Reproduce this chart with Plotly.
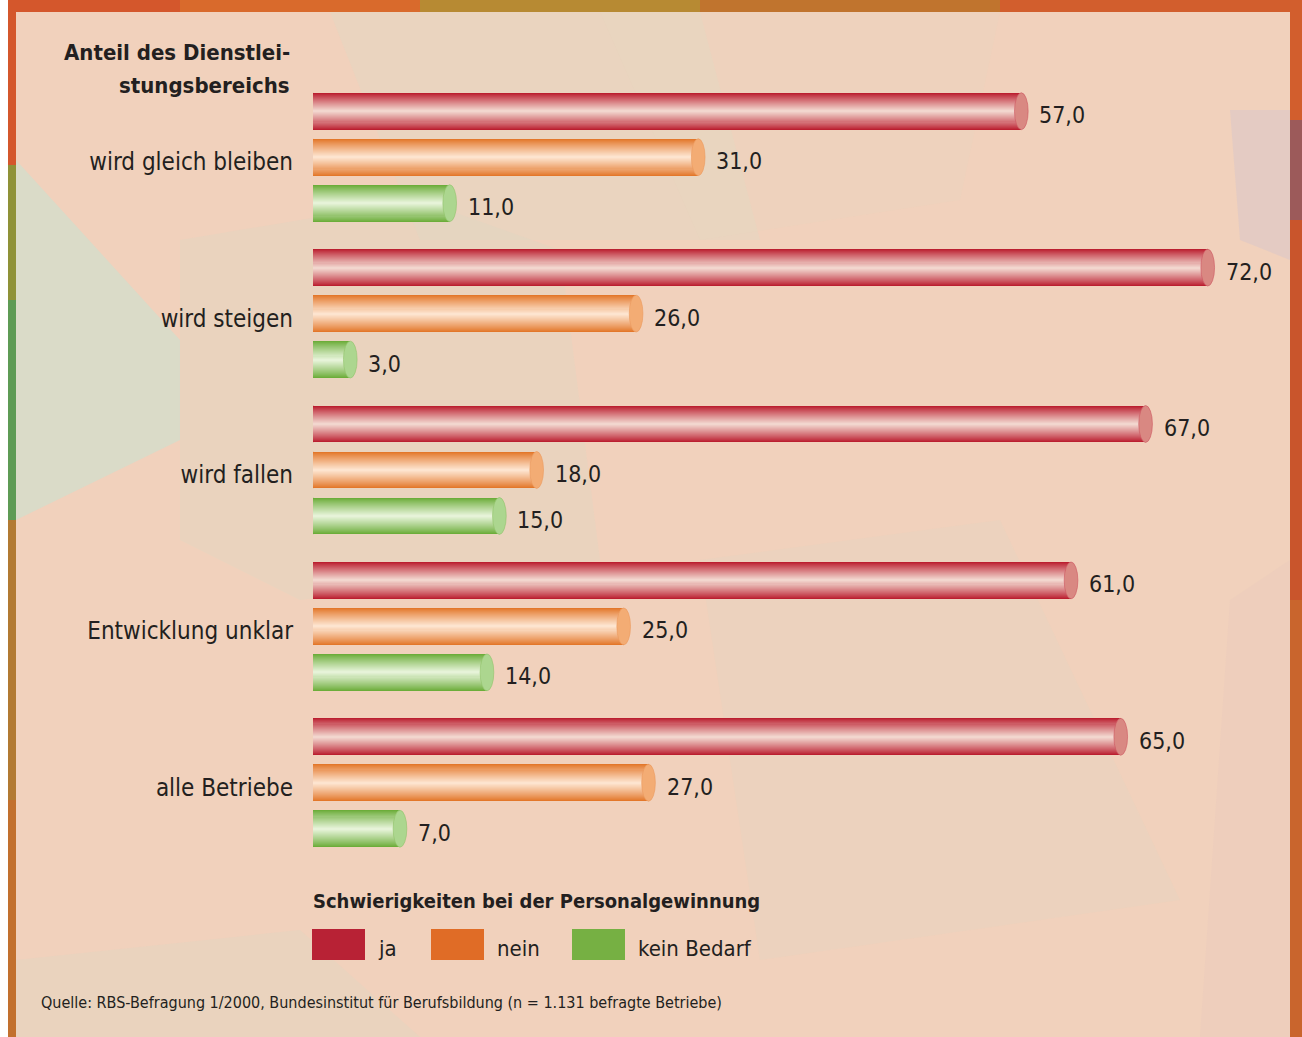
import plotly.graph_objects as go

# ---------------- data ----------------
categories = ["wird gleich bleiben", "wird steigen", "wird fallen", "Entwicklung unklar", "alle Betriebe"]
series_names = ["ja", "nein", "kein Bedarf"]
ja_values = [57.0, 72.0, 67.0, 61.0, 65.0]
nein_values = [31.0, 26.0, 18.0, 25.0, 27.0]
kein_bedarf_values = [11.0, 3.0, 15.0, 14.0, 7.0]
axis_title_lines = ["Anteil des Dienstlei-", "stungsbereichs"]
legend_title = "Schwierigkeiten bei der Personalgewinnung"
source_text = "Quelle: RBS-Befragung 1/2000, Bundesinstitut für Berufsbildung (n = 1.131 befragte Betriebe)"

# ---------------- style ----------------
FONT = "Liberation Sans Narrow, DejaVu Sans Condensed, Roboto Condensed, Arial Narrow, sans-serif"
TXT = "#231f20"
edge_cols = ["#bb1f30", "#e3772a", "#6cad3a"]
center_cols = ["#f2d6ce", "#fde4cf", "#e6f3d8"]
cap_cols = ["#d98882", "#f3ac74", "#acd68f"]
legend_cols = ["#b82235", "#e06c26", "#76b043"]

W_FIG, H_FIG = 1302, 1037
L, T, PW, PH = 313, 79, 932, 782
XMAX = 75.0


def px(x):
    return (x - L) / PW


def py(y):
    return 1 - (y - T) / PH


def hex2rgb(h):
    h = h.lstrip("#")
    return tuple(int(h[i:i + 2], 16) for i in (0, 2, 4))


def mix(a, b, t):
    ra, rb = hex2rgb(a), hex2rgb(b)
    return "rgb(%d,%d,%d)" % tuple(round(ra[i] + (rb[i] - ra[i]) * t) for i in range(3))


offsets = [-0.294, 0.0, 0.294]
BW = 0.236
all_values = [ja_values, nein_values, kein_bedarf_values]

fig = go.Figure()

# gradient "cylinder" bars made of stacked overlay layers
NL = 18
for s, vals in enumerate(all_values):
    ypos = [g + offsets[s] for g in range(len(categories))]
    for k in range(NL):
        f = 1.0 - k / NL
        t = (k / (NL - 1)) ** 0.9
        fig.add_trace(go.Bar(
            x=vals, y=ypos, orientation="h", width=BW * f,
            marker=dict(color=mix(edge_cols[s], center_cols[s], t), line=dict(width=0)),
            showlegend=False, hoverinfo="skip" if k else "x",
            name=series_names[s],
        ))

shapes = []
# background frame
shapes.append(dict(type="rect", xref="paper", yref="paper", x0=px(0), x1=px(W_FIG), y0=py(0), y1=py(H_FIG),
                   fillcolor="#cf5b2d", line_width=0, layer="below"))
# left border color segments
for (y0, y1, c) in [(0, 165, "#d4572c"), (165, 300, "#8f9238"), (300, 520, "#5e9b55"), (520, 800, "#b27a33"), (800, 1037, "#c2702e")]:
    shapes.append(dict(type="rect", xref="paper", yref="paper", x0=px(0), x1=px(16), y0=py(y0), y1=py(y1),
                       fillcolor=c, line_width=0, layer="below"))
# top border segments
for (x0, x1, c) in [(0, 180, "#d4572c"), (180, 420, "#d96a2c"), (420, 700, "#b78a33"), (700, 1000, "#c0742e"), (1000, 1302, "#d25e2d")]:
    shapes.append(dict(type="rect", xref="paper", yref="paper", x0=px(x0), x1=px(x1), y0=py(0), y1=py(12),
                       fillcolor=c, line_width=0, layer="below"))
# right border segments
for (y0, y1, c) in [(0, 120, "#d25e2d"), (120, 220, "#9c5a5a"), (220, 600, "#c9552c"), (600, 1037, "#c9652d")]:
    shapes.append(dict(type="rect", xref="paper", yref="paper", x0=px(1290), x1=px(1302), y0=py(y0), y1=py(y1),
                       fillcolor=c, line_width=0, layer="below"))
# white strip at far left
shapes.append(dict(type="rect", xref="paper", yref="paper", x0=px(0), x1=px(8), y0=py(0), y1=py(H_FIG),
                   fillcolor="#ffffff", line_width=0, layer="below"))
# peach panel
shapes.append(dict(type="rect", xref="paper", yref="paper", x0=px(16), x1=px(1290), y0=py(12), y1=py(H_FIG),
                   fillcolor="#f1d1bc", line_width=0, layer="below"))


def poly(points, color):
    d = "M " + " L ".join("%f,%f" % (px(a), py(b)) for a, b in points) + " Z"
    return dict(type="path", xref="paper", yref="paper", path=d, fillcolor=color, line_width=0, layer="below")


# faint mottled background areas
shapes.append(poly([(180, 240), (420, 200), (560, 250), (600, 560), (300, 600), (180, 540)], "rgba(222,216,196,0.35)"))
shapes.append(poly([(16, 160), (180, 340), (180, 440), (16, 520)], "rgba(210,222,204,0.75)"))
shapes.append(poly([(330, 12), (700, 12), (760, 240), (420, 240)], "rgba(220,218,198,0.35)"))
shapes.append(poly([(600, 12), (1000, 12), (960, 200), (700, 240)], "rgba(230,214,192,0.25)"))
shapes.append(poly([(700, 560), (1000, 520), (1180, 900), (760, 960)], "rgba(222,216,196,0.25)"))
shapes.append(poly([(1230, 110), (1290, 110), (1290, 260), (1240, 240)], "rgba(210,196,205,0.4)"))
shapes.append(poly([(1230, 600), (1290, 560), (1290, 1037), (1200, 1037)], "rgba(232,200,190,0.35)"))
shapes.append(poly([(16, 960), (300, 930), (420, 1037), (16, 1037)], "rgba(220,216,194,0.35)"))

# end caps (ellipses) and rounded starts
cap_w = 0.55
for s, vals in enumerate(all_values):
    for g, v in enumerate(vals):
        yc = g + offsets[s]
        shapes.append(dict(type="circle", xref="x", yref="y", x0=-cap_w * 0.7, x1=cap_w * 0.7,
                           y0=yc - BW / 2, y1=yc + BW / 2, fillcolor=mix(edge_cols[s], center_cols[s], 0.5),
                           line_width=0, layer="below"))
        shapes.append(dict(type="circle", xref="x", yref="y", x0=v - cap_w, x1=v + cap_w,
                           y0=yc - BW / 2, y1=yc + BW / 2, fillcolor=cap_cols[s],
                           line=dict(color=mix(edge_cols[s], center_cols[s], 0.3), width=0.6), layer="above"))

annotations = []
# value labels
for s, vals in enumerate(all_values):
    for g, v in enumerate(vals):
        annotations.append(dict(x=v, y=g + offsets[s], xref="x", yref="y", xanchor="left", yanchor="middle",
                                xshift=16, yshift=-4, showarrow=False,
                                text=("%.1f" % v).replace(".", ","),
                                font=dict(family=FONT, size=23, color=TXT)))
# axis title (two lines)
for i, line in enumerate(axis_title_lines):
    annotations.append(dict(x=px(292), y=py(52 + 33 * i), xref="paper", yref="paper", xanchor="right",
                            yanchor="middle", showarrow=False, text="<b>" + line + "</b>",
                            font=dict(family=FONT, size=22, color=TXT)))
# legend title
annotations.append(dict(x=px(311), y=py(901), xref="paper", yref="paper", xanchor="left", yanchor="middle",
                        showarrow=False, text="<b>" + legend_title + "</b>",
                        font=dict(family=FONT, size=20, color=TXT)))
# legend items
legend_x = [312, 431, 572]
for i, name in enumerate(series_names):
    x0 = legend_x[i]
    shapes.append(dict(type="rect", xref="paper", yref="paper", x0=px(x0), x1=px(x0 + 53), y0=py(929), y1=py(960),
                       fillcolor=legend_cols[i], line_width=0))
    annotations.append(dict(x=px(x0 + 64), y=py(948), xref="paper", yref="paper", xanchor="left", yanchor="middle",
                            showarrow=False, text=name, font=dict(family=FONT, size=22, color=TXT)))
# source
annotations.append(dict(x=px(39), y=py(1003), xref="paper", yref="paper", xanchor="left", yanchor="middle",
                        showarrow=False, text=source_text, font=dict(family=FONT, size=16, color=TXT)))

fig.update_layout(
    width=W_FIG, height=H_FIG,
    margin=dict(l=L, r=W_FIG - L - PW, t=T, b=H_FIG - T - PH, pad=0),
    barmode="overlay", bargap=0,
    paper_bgcolor="#f1d1bc", plot_bgcolor="rgba(0,0,0,0)",
    showlegend=False,
    xaxis=dict(range=[0, XMAX], visible=False, fixedrange=True),
    yaxis=dict(range=[len(categories) - 0.5, -0.5], tickvals=[g + 0.03 for g in range(len(categories))],
               ticktext=categories,
               showgrid=False, zeroline=False, showline=False, ticks="", ticklabelstandoff=19,
               tickfont=dict(family=FONT, size=24, color=TXT), fixedrange=True),
    shapes=shapes, annotations=annotations,
)

fig.write_html("out.html", config={"displayModeBar": False},
               post_script="document.body.style.margin='0';document.body.style.overflow='hidden';")
